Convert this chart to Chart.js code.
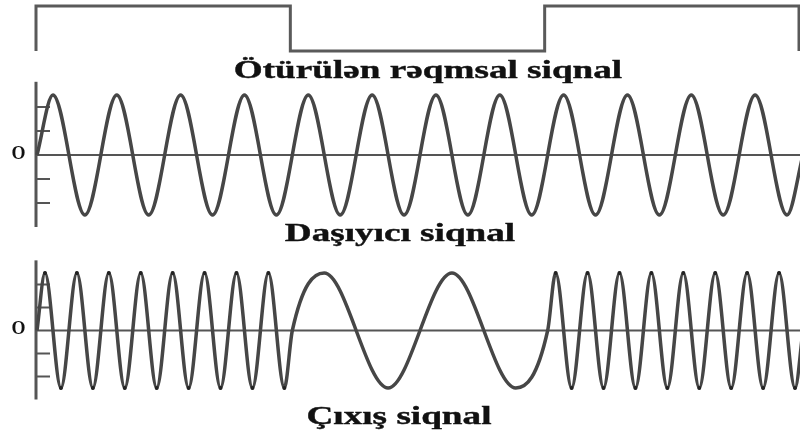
<!DOCTYPE html>
<html>
<head>
<meta charset="utf-8">
<script src="https://cdn.jsdelivr.net/npm/chart.js@4.4.1/dist/chart.umd.min.js"></script>
<style>
html,body{margin:0;padding:0;background:#fff;overflow:hidden;width:800px;height:436px;position:relative;}
canvas{position:absolute;left:0;}
.yazi{position:absolute;width:800px;text-align:center;font-family:"Liberation Serif","Times New Roman",serif;font-weight:bold;font-size:26px;line-height:26px;color:#111;-webkit-text-stroke:0.4px #111;transform:scaleX(1.43);white-space:nowrap;}
</style>
</head>
<body>
<canvas id="reqemsal" width="804" height="62" style="top:0"></canvas>
<div class="yazi" id="yazi1" style="left:28px;top:57px"></div>
<canvas id="dasiyici" width="804" height="150" style="top:80px"></canvas>
<div class="yazi" id="yazi2" style="left:0;top:220px"></div>
<canvas id="cixis" width="804" height="155" style="top:255px"></canvas>
<div class="yazi" id="yazi3" style="left:-1px;top:403px"></div>
<script>
var basliqlar=["Ötürülən rəqmsal siqnal","Daşıyıcı siqnal","Çıxış siqnal"];
var sifirYazisi="O";
var olcuXetleri=[0.8,0.4,-0.4,-0.8];

// reqemsal siqnal: 1 - 0 - 1
var zamanReqemsal=[0,0,4,4,8,8,12,12];
var seviyyeReqemsal=[0,1,1,0,0,1,1,0];

// dasiyici: baslangic, zirveler ve cuxurlar, son
var zamanDasiyici=[0,0.25,0.75,1.25,1.75,2.25,2.75,3.25,3.75,4.25,4.75,5.25,5.75,6.25,6.75,7.25,7.75,8.25,8.75,9.25,9.75,10.25,10.75,11.25,11.75,12];
var seviyyeDasiyici=[0,1,-1,1,-1,1,-1,1,-1,1,-1,1,-1,1,-1,1,-1,1,-1,1,-1,1,-1,1,-1,0];

// cixis (FSK): yuksek tezlik, alcaq tezlik, yuksek tezlik
var zamanCixis=[0,0.125,0.375,0.625,0.875,1.125,1.375,1.625,1.875,2.125,2.375,2.625,2.875,3.125,3.375,3.625,3.875,
  4,4.5,5.5,6.5,7.5,8,
  8.125,8.375,8.625,8.875,9.125,9.375,9.625,9.875,10.125,10.375,10.625,10.875,11.125,11.375,11.625,11.875,12];
var seviyyeCixis=[0,1,-1,1,-1,1,-1,1,-1,1,-1,1,-1,1,-1,1,-1,
  0,1,-1,1,-1,0,
  1,-1,1,-1,1,-1,1,-1,1,-1,1,-1,1,-1,1,-1,0];

document.getElementById("yazi1").textContent=basliqlar[0];
document.getElementById("yazi2").textContent=basliqlar[1];
document.getElementById("yazi3").textContent=basliqlar[2];

function noqteler(zaman,seviyye)
{
  return zaman.map(function(t,i){ return {x:t,y:seviyye[i]}; });
}

var oxlar={
  id:'oxlar',
  beforeDatasetsDraw:function(chart)
  {
    var ctx=chart.ctx, x=chart.scales.x, y=chart.scales.y;
    var sol=x.getPixelForValue(0)-1;
    var sifir=y.getPixelForValue(0);
    ctx.save();
    ctx.strokeStyle='#555';
    ctx.lineWidth=2;
    ctx.beginPath(); ctx.moveTo(sol,sifir); ctx.lineTo(chart.width,sifir); ctx.stroke();
    ctx.lineWidth=3;
    ctx.beginPath(); ctx.moveTo(sol,y.getPixelForValue(1.22)); ctx.lineTo(sol,y.getPixelForValue(-1.2)); ctx.stroke();
    ctx.lineWidth=2;
    olcuXetleri.forEach(function(v){
      ctx.beginPath(); ctx.moveTo(sol,y.getPixelForValue(v)); ctx.lineTo(sol+14,y.getPixelForValue(v)); ctx.stroke();
    });
    ctx.fillStyle='#111';
    ctx.font='bold 18px "Liberation Serif"';
    ctx.textAlign='center';
    ctx.textBaseline='middle';
    ctx.fillText(sifirYazisi,18.5,sifir-1);
    ctx.restore();
  }
};

function olcekler(min,max)
{
  return {
    x:{type:'linear',min:0,max:12,display:false},
    y:{min:min,max:max,display:false}
  };
}

new Chart(document.getElementById("reqemsal"),
{
  type:'line',
  data:{datasets:[{data:noqteler(zamanReqemsal,seviyyeReqemsal),borderColor:'#5a5a5a',borderWidth:3,pointRadius:0,clip:false}]},
  options:{
    animation:false,responsive:false,
    layout:{padding:{left:36,right:5,top:6,bottom:11}},
    plugins:{legend:{display:false},tooltip:{enabled:false}},
    scales:olcekler(0,1)
  }
});

new Chart(document.getElementById("dasiyici"),
{
  type:'line',
  data:{datasets:[{data:noqteler(zamanDasiyici,seviyyeDasiyici),borderColor:'#464646',borderWidth:3.5,pointRadius:0,cubicInterpolationMode:'monotone',clip:false}]},
  options:{
    animation:false,responsive:false,
    layout:{padding:{left:37,right:1,top:15,bottom:15}},
    plugins:{legend:{display:false},tooltip:{enabled:false}},
    scales:olcekler(-1,1)
  },
  plugins:[oxlar]
});

new Chart(document.getElementById("cixis"),
{
  type:'line',
  data:{datasets:[{
    data:noqteler(zamanCixis,seviyyeCixis),
    borderColor:'#464646',borderWidth:3.5,
    pointRadius:function(c){
      var t=zamanCixis[c.dataIndex], v=seviyyeCixis[c.dataIndex];
      return (v!==0 && (t<4 || t>8)) ? 2 : 0;
    },
    pointBackgroundColor:'#222',pointBorderWidth:0,
    cubicInterpolationMode:'monotone',clip:false}]},
  options:{
    animation:false,responsive:false,
    layout:{padding:{left:37,right:1,top:18,bottom:22}},
    plugins:{legend:{display:false},tooltip:{enabled:false}},
    scales:olcekler(-1,1)
  },
  plugins:[oxlar]
});
</script>
</body>
</html>
